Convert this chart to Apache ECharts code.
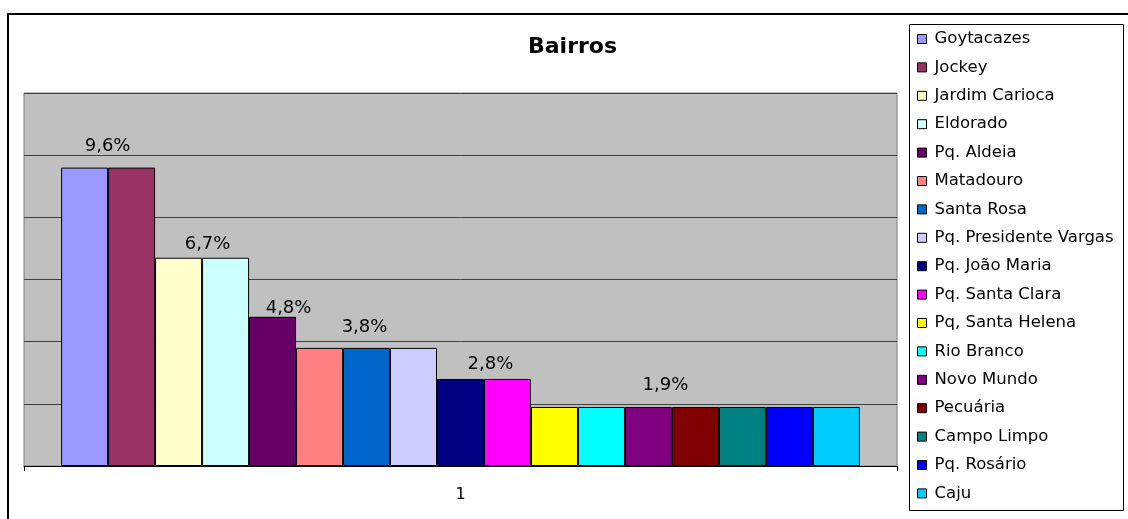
<!DOCTYPE html>
<html>
<head>
<meta charset="utf-8">
<script src="https://cdn.jsdelivr.net/npm/echarts@6/dist/echarts.min.js"></script>
<style>
  html, body { margin: 0; padding: 0; background: #fff; }
  #chart { width: 1128px; height: 519px; }
</style>
</head>
<body>
<div id="chart"></div>
<script>
// dados do gráfico
const categorias = ['1']
const bairros = ['Goytacazes', 'Jockey', 'Jardim Carioca', 'Eldorado', 'Pq. Aldeia', 'Matadouro', 'Santa Rosa',
  'Pq. Presidente Vargas', 'Pq. João Maria', 'Pq. Santa Clara', 'Pq, Santa Helena', 'Rio Branco',
  'Novo Mundo', 'Pecuária', 'Campo Limpo', 'Pq. Rosário', 'Caju']
const valores = [9.6, 9.6, 6.7, 6.7, 4.8, 3.8, 3.8, 3.8, 2.8, 2.8, 1.9, 1.9, 1.9, 1.9, 1.9, 1.9, 1.9]
const ticksY = [0, 2, 4, 6, 8, 10, 12]

// paleta do Excel
const cores = ['#9999FF', '#993366', '#FFFFCC', '#CCFFFF', '#660066', '#FF8080', '#0066CC', '#CCCCFF',
  '#000080', '#FF00FF', '#FFFF00', '#00FFFF', '#800080', '#800000', '#008080', '#0000FF', '#00CCFF']

// só alguns rótulos aparecem: índice da barra e deslocamento [dx, dy]
const rotulos = { 0: [23, -12], 3: [-18, -4], 4: [16, 1], 6: [-2, -12], 9: [-17, -6], 12: [17, -13] }

const fonte = 'DejaVu Sans'
const chart = echarts.init(document.getElementById('chart'))

const series = bairros.map((nome, i) => {
  const r = rotulos[i]
  return {
    name: nome,
    type: 'bar',
    data: [valores[i]],
    barGap: '0%',
    barCategoryGap: '8.5%',
    itemStyle: { color: cores[i], borderColor: '#000', borderWidth: 1 },
    label: {
      show: !!r,
      position: 'top',
      distance: 0,
      offset: r || [0, 0],
      color: '#000',
      fontFamily: fonte,
      fontSize: 18,
      formatter: (p) => String(p.value).replace('.', ',') + '%'
    }
  }
})

chart.setOption({
  animation: false,
  backgroundColor: '#fff',
  textStyle: { fontFamily: fonte },
  title: {
    text: 'Bairros',
    left: 528,
    top: 36,
    padding: 0,
    textStyle: { fontFamily: fonte, fontSize: 22, fontWeight: 'bold', color: '#000' }
  },
  grid: {
    left: 24,
    right: 231,
    top: 93,
    bottom: 53,
    show: true,
    backgroundColor: '#C0C0C0',
    borderColor: '#808080',
    borderWidth: 1
  },
  legend: {
    orient: 'vertical',
    left: 917,
    top: 29,
    padding: 0,
    itemGap: 8.4,
    itemWidth: 9,
    itemHeight: 9,
    icon: 'rect',
    itemStyle: { borderColor: '#000', borderWidth: 1 },
    textStyle: { fontFamily: fonte, fontSize: 16.5, color: '#000', lineHeight: 20, padding: [0, 0, 0, 3] },
    data: bairros
  },
  xAxis: {
    type: 'category',
    data: categorias,
    axisLine: { lineStyle: { color: '#000', width: 1 } },
    axisTick: { show: true, length: 5, lineStyle: { color: '#000' } },
    axisLabel: { margin: 21, color: '#000', fontFamily: fonte, fontSize: 16 }
  },
  yAxis: {
    type: 'value',
    min: ticksY[0],
    max: ticksY[ticksY.length - 1],
    interval: ticksY[1] - ticksY[0],
    axisLine: { show: false },
    axisTick: { show: false },
    axisLabel: { show: false },
    splitLine: { lineStyle: { color: '#404040', width: 1 } }
  },
  graphic: [
    {
      // moldura externa do gráfico
      type: 'rect',
      shape: { x: 8, y: 14, width: 1300, height: 700 },
      style: { fill: 'none', stroke: '#000', lineWidth: 2 },
      silent: true
    },
    {
      // caixa da legenda
      type: 'rect',
      shape: { x: 909.5, y: 24.5, width: 214, height: 486 },
      style: { fill: 'none', stroke: '#000', lineWidth: 1 },
      silent: true
    }
  ],
  series: series
})
</script>
</body>
</html>
